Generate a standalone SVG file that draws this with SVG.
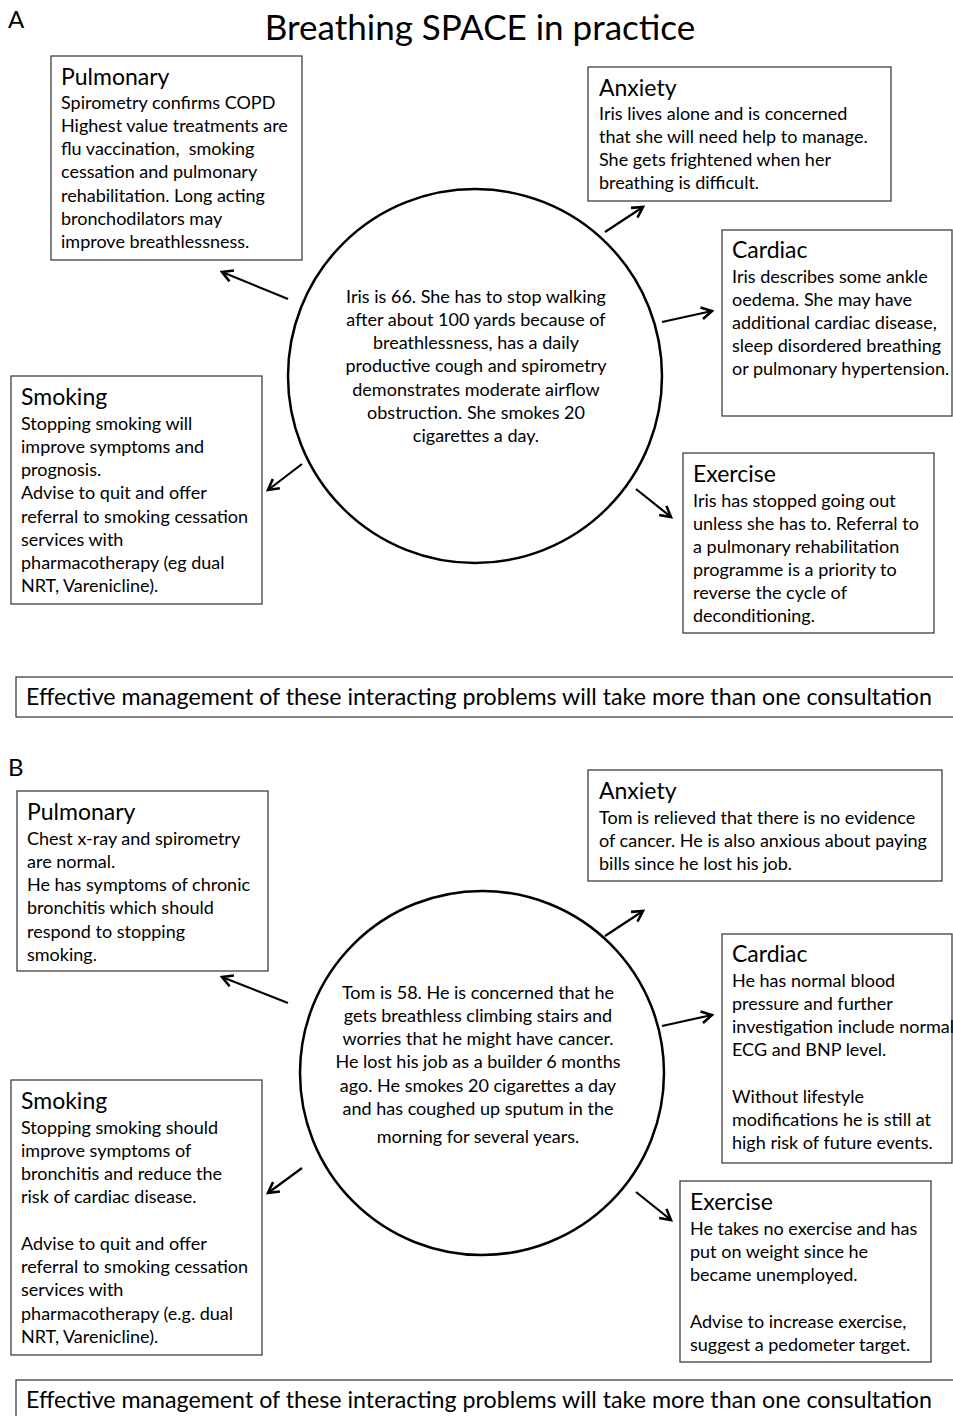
<svg xmlns="http://www.w3.org/2000/svg" width="953" height="1416" viewBox="0 0 953 1416">
<style>
.bg{fill:#fff}
.box{fill:#fff;stroke:#404040;stroke-width:1.3}
.circ{fill:#fff;stroke:#000;stroke-width:2.5}
.t{font-family:Lato,"Open Sans","Liberation Sans",sans-serif;fill:#000;white-space:pre}
.h{font-size:23px}
.b{font-size:18px}
.c{font-size:18px;text-anchor:middle}
.lab{font-size:24px}
.ttl{font-size:35px;text-anchor:middle}
.ban{font-size:23px}
.arr{stroke:#000;stroke-width:2.2;fill:none;marker-end:url(#ah)}
</style>
<defs>
<marker id="ah" markerUnits="userSpaceOnUse" markerWidth="14" markerHeight="14" viewBox="0 0 12 12" refX="10" refY="6" orient="auto">
<path d="M1,1 L10,6 L1,11" fill="none" stroke="#000" stroke-width="2.2"/>
</marker>
</defs>
<rect class="bg" x="0" y="0" width="953" height="1416"/>

<!-- Section A -->
<text class="t lab" x="8" y="28">A</text>
<text class="t ttl" x="480" y="40">Breathing SPACE in practice</text>

<g id="a-center">
<circle class="circ" cx="475" cy="376" r="187"/>
<text class="t c" x="476" y="303">Iris is 66. She has to stop walking</text>
<text class="t c" x="476" y="326">after about 100 yards because of</text>
<text class="t c" x="476" y="349">breathlessness, has a daily</text>
<text class="t c" x="476" y="372">productive cough and spirometry</text>
<text class="t c" x="476" y="396">demonstrates moderate airflow</text>
<text class="t c" x="476" y="419">obstruction. She smokes 20</text>
<text class="t c" x="476" y="442">cigarettes a day.</text>
</g>

<g id="a-pulmonary">
<rect class="box" x="51" y="56" width="251" height="204"/>
<text class="t h" x="61" y="85">Pulmonary</text>
<text class="t b" x="61" y="109">Spirometry confirms COPD</text>
<text class="t b" x="61" y="132">Highest value treatments are</text>
<text class="t b" x="61" y="155">flu vaccination,  smoking</text>
<text class="t b" x="61" y="178">cessation and pulmonary</text>
<text class="t b" x="61" y="202">rehabilitation. Long acting</text>
<text class="t b" x="61" y="225">bronchodilators may</text>
<text class="t b" x="61" y="248">improve breathlessness.</text>
</g>

<g id="a-anxiety">
<rect class="box" x="588" y="67" width="303" height="134"/>
<text class="t h" x="599" y="96">Anxiety</text>
<text class="t b" x="599" y="120">Iris lives alone and is concerned</text>
<text class="t b" x="599" y="143">that she will need help to manage.</text>
<text class="t b" x="599" y="166">She gets frightened when her</text>
<text class="t b" x="599" y="189">breathing is difficult.</text>
</g>

<g id="a-cardiac">
<rect class="box" x="722" y="230" width="230" height="186"/>
<text class="t h" x="732" y="258">Cardiac</text>
<text class="t b" x="732" y="283">Iris describes some ankle</text>
<text class="t b" x="732" y="306">oedema. She may have</text>
<text class="t b" x="732" y="329">additional cardiac disease,</text>
<text class="t b" x="732" y="352">sleep disordered breathing</text>
<text class="t b" x="732" y="375">or pulmonary hypertension.</text>
</g>

<g id="a-smoking">
<rect class="box" x="11" y="376" width="251" height="228"/>
<text class="t h" x="21" y="405">Smoking</text>
<text class="t b" x="21" y="430">Stopping smoking will</text>
<text class="t b" x="21" y="453">improve symptoms and</text>
<text class="t b" x="21" y="476">prognosis.</text>
<text class="t b" x="21" y="499">Advise to quit and offer</text>
<text class="t b" x="21" y="523">referral to smoking cessation</text>
<text class="t b" x="21" y="546">services with</text>
<text class="t b" x="21" y="569">pharmacotherapy (eg dual</text>
<text class="t b" x="21" y="592">NRT, Varenicline).</text>
</g>

<g id="a-exercise">
<rect class="box" x="683" y="453" width="251" height="180"/>
<text class="t h" x="693" y="482">Exercise</text>
<text class="t b" x="693" y="507">Iris has stopped going out</text>
<text class="t b" x="693" y="530">unless she has to. Referral to</text>
<text class="t b" x="693" y="553">a pulmonary rehabilitation</text>
<text class="t b" x="693" y="576">programme is a priority to</text>
<text class="t b" x="693" y="599">reverse the cycle of</text>
<text class="t b" x="693" y="622">deconditioning.</text>
</g>

<g id="a-banner">
<rect class="box" x="16" y="677" width="950" height="40"/>
<text class="t ban" x="26" y="705" textLength="906" lengthAdjust="spacingAndGlyphs">Effective management of these interacting problems will take more than one consultation</text>
</g>

<g id="a-connectors">
<line class="arr" x1="288" y1="299" x2="222" y2="272"/>
<line class="arr" x1="605" y1="232" x2="643" y2="207"/>
<line class="arr" x1="662" y1="322" x2="712" y2="311"/>
<line class="arr" x1="302" y1="464" x2="268" y2="490"/>
<line class="arr" x1="636" y1="489" x2="671" y2="517"/>
</g>

<!-- Section B -->
<text class="t lab" x="8" y="776">B</text>

<g id="b-center">
<circle class="circ" cx="482" cy="1073" r="182"/>
<text class="t c" x="478" y="999">Tom is 58. He is concerned that he</text>
<text class="t c" x="478" y="1022">gets breathless climbing stairs and</text>
<text class="t c" x="478" y="1045">worries that he might have cancer.</text>
<text class="t c" x="478" y="1068">He lost his job as a builder 6 months</text>
<text class="t c" x="478" y="1092">ago. He smokes 20 cigarettes a day</text>
<text class="t c" x="478" y="1115">and has coughed up sputum in the</text>
<text class="t c" x="478" y="1143">morning for several years.</text>
</g>

<g id="b-pulmonary">
<rect class="box" x="17" y="791" width="251" height="180"/>
<text class="t h" x="27" y="820">Pulmonary</text>
<text class="t b" x="27" y="845">Chest x-ray and spirometry</text>
<text class="t b" x="27" y="868">are normal.</text>
<text class="t b" x="27" y="891">He has symptoms of chronic</text>
<text class="t b" x="27" y="914">bronchitis which should</text>
<text class="t b" x="27" y="938">respond to stopping</text>
<text class="t b" x="27" y="961">smoking.</text>
</g>

<g id="b-anxiety">
<rect class="box" x="588" y="770" width="354" height="111"/>
<text class="t h" x="599" y="799">Anxiety</text>
<text class="t b" x="599" y="824">Tom is relieved that there is no evidence</text>
<text class="t b" x="599" y="847">of cancer. He is also anxious about paying</text>
<text class="t b" x="599" y="870">bills since he lost his job.</text>
</g>

<g id="b-cardiac">
<rect class="box" x="722" y="934" width="230" height="229"/>
<text class="t h" x="732" y="962">Cardiac</text>
<text class="t b" x="732" y="987">He has normal blood</text>
<text class="t b" x="732" y="1010">pressure and further</text>
<text class="t b" x="732" y="1033">investigation include normal</text>
<text class="t b" x="732" y="1056">ECG and BNP level.</text>
<text class="t b" x="732" y="1103">Without lifestyle</text>
<text class="t b" x="732" y="1126">modifications he is still at</text>
<text class="t b" x="732" y="1149">high risk of future events.</text>
</g>

<g id="b-smoking">
<rect class="box" x="11" y="1080" width="251" height="275"/>
<text class="t h" x="21" y="1109">Smoking</text>
<text class="t b" x="21" y="1134">Stopping smoking should</text>
<text class="t b" x="21" y="1157">improve symptoms of</text>
<text class="t b" x="21" y="1180">bronchitis and reduce the</text>
<text class="t b" x="21" y="1203">risk of cardiac disease.</text>
<text class="t b" x="21" y="1250">Advise to quit and offer</text>
<text class="t b" x="21" y="1273">referral to smoking cessation</text>
<text class="t b" x="21" y="1296">services with</text>
<text class="t b" x="21" y="1320">pharmacotherapy (e.g. dual</text>
<text class="t b" x="21" y="1343">NRT, Varenicline).</text>
</g>

<g id="b-exercise">
<rect class="box" x="680" y="1181" width="251" height="181"/>
<text class="t h" x="690" y="1210">Exercise</text>
<text class="t b" x="690" y="1235">He takes no exercise and has</text>
<text class="t b" x="690" y="1258">put on weight since he</text>
<text class="t b" x="690" y="1281">became unemployed.</text>
<text class="t b" x="690" y="1328">Advise to increase exercise,</text>
<text class="t b" x="690" y="1351">suggest a pedometer target.</text>
</g>

<g id="b-banner">
<rect class="box" x="16" y="1380" width="950" height="45"/>
<text class="t ban" x="26" y="1408" textLength="906" lengthAdjust="spacingAndGlyphs">Effective management of these interacting problems will take more than one consultation</text>
</g>

<g id="b-connectors">
<line class="arr" x1="288" y1="1003" x2="222" y2="977"/>
<line class="arr" x1="605" y1="936" x2="643" y2="911"/>
<line class="arr" x1="662" y1="1026" x2="712" y2="1015"/>
<line class="arr" x1="302" y1="1168" x2="268" y2="1193"/>
<line class="arr" x1="636" y1="1192" x2="671" y2="1220"/>
</g>
</svg>
